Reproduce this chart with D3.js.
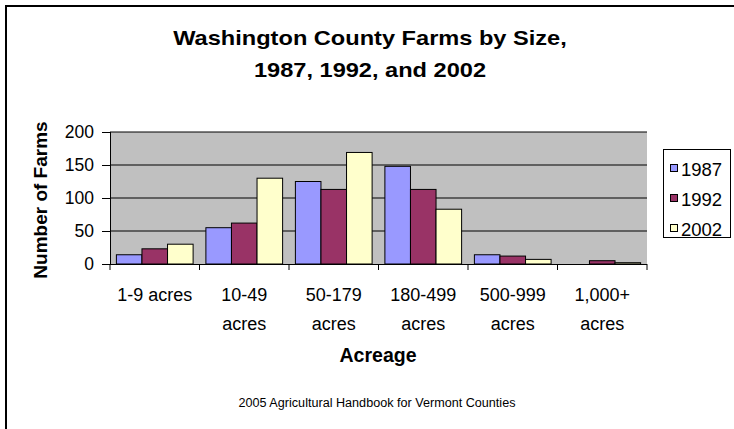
<!DOCTYPE html>
<html><head><meta charset="utf-8">
<script src="https://cdn.jsdelivr.net/npm/d3@7"></script>
<style>body{margin:0;background:#fff;}svg{display:block;font-family:Arial,"Liberation Sans",sans-serif;}</style>
</head><body><svg id="c" width="734" height="429"></svg>
<script>
const categories = [["1-9 acres"],["10-49","acres"],["50-179","acres"],["180-499","acres"],["500-999","acres"],["1,000+","acres"]];
const seriesNames = ["1987","1992","2002"];
const v1987 = [14, 55, 125, 148, 14, 0];
const v1992 = [23, 62, 113, 113, 12, 5];
const v2002 = [30, 130, 169, 83, 7, 2];
const yTicks = [0, 50, 100, 150, 200];
const colors = ["#9999ff", "#993366", "#ffffcc"];
const seriesVals = [v1987, v1992, v2002];
const FF = "Arial, 'Liberation Sans', sans-serif";

const svg = d3.select("#c");
svg.append("rect").attr("x",6).attr("y",6).attr("width",740).attr("height",440)
  .attr("fill","#fff").attr("stroke","#000").attr("stroke-width",2);

const L=110, R=647, T=132, B=264;
const x = d3.scaleBand().domain(d3.range(categories.length)).range([L,R]).paddingInner(0).paddingOuter(0);
const y = d3.scaleLinear().domain([0,200]).range([B,T]);
const bw = x.bandwidth();
const xs = d3.scaleBand().domain(d3.range(3)).range([0,bw]).paddingInner(0).paddingOuter(0.25);

svg.append("rect").attr("x",L).attr("y",T).attr("width",R-L).attr("height",B-T).attr("fill","#c0c0c0");
svg.append("g").selectAll("line").data(yTicks.filter(d=>d>0)).join("line")
  .attr("x1",L).attr("x2",R).attr("y1",d=>y(d)).attr("y2",d=>y(d)).attr("stroke","#000").attr("stroke-width",1);

const g = svg.append("g");
seriesVals.forEach((vals,si)=>{
  g.selectAll(".b"+si).data(vals).join("rect")
    .attr("x",(d,i)=>x(i)+xs(si)).attr("width",xs.bandwidth())
    .attr("y",d=>y(d)).attr("height",d=>B-y(d))
    .attr("fill",colors[si]).attr("stroke","#000").attr("stroke-width",1);
});

// axes
const ya = svg.append("g").attr("transform",`translate(${L},0)`)
  .call(d3.axisLeft(y).tickValues(yTicks).tickSize(8).tickPadding(8));
ya.select(".domain").attr("stroke","#000").attr("d",`M0.5,${T}V${B}`);
ya.selectAll("text").attr("font-size",17.5).attr("fill","#000").attr("font-family",FF);
const xa = svg.append("g").attr("transform",`translate(0,${B})`)
  .call(d3.axisBottom(x).tickValues([]).tickSize(0));
xa.select(".domain").attr("stroke","#000").attr("d",`M${L},0.5H${R}`);
svg.append("g").selectAll("line").data(d3.range(categories.length+1)).join("line")
  .attr("x1",i=>L+i*bw).attr("x2",i=>L+i*bw).attr("y1",B).attr("y2",B+6).attr("stroke","#000");

svg.append("g").selectAll("text").data(categories).join("text")
  .attr("text-anchor","middle").attr("font-size",18).attr("fill","#000")
  .attr("transform",(d,i)=>`translate(${x(i)+bw/2},301)`)
  .selectAll("tspan").data(d=>d).join("tspan").attr("x",0).attr("dy",(d,j)=>j?29:0).text(d=>d);

// titles
const title = svg.append("text").attr("text-anchor","middle").attr("font-weight","bold").attr("font-size",20)
  .attr("transform","translate(370,0) scale(1.18,1)");
title.append("tspan").attr("x",0).attr("y",45).text("Washington County Farms by Size,");
title.append("tspan").attr("x",0).attr("y",77).text("1987, 1992, and 2002");
svg.append("text").attr("transform","translate(46.5,200) rotate(-90)").attr("text-anchor","middle")
  .attr("font-weight","bold").attr("font-size",19).text("Number of Farms");
svg.append("text").attr("x",378).attr("y",362).attr("text-anchor","middle").attr("font-weight","bold").attr("font-size",19.5).text("Acreage");
svg.append("text").attr("x",377).attr("y",407).attr("text-anchor","middle").attr("font-size",12)
  .attr("textLength",277).attr("lengthAdjust","spacingAndGlyphs").text("2005 Agricultural Handbook for Vermont Counties");

// legend
const lg = svg.append("g");
lg.append("rect").attr("x",663.5).attr("y",149.5).attr("width",67).attr("height",88).attr("fill","#fff").attr("stroke","#000");
seriesNames.forEach((n,i)=>{
  const cy = 169 + i*30;
  lg.append("rect").attr("x",670.5).attr("y",cy-4.5).attr("width",7).attr("height",7).attr("fill",colors[i]).attr("stroke","#000");
  lg.append("text").attr("x",681).attr("y",cy+6.5).attr("font-size",18.5).text(n);
});
</script></body></html>
